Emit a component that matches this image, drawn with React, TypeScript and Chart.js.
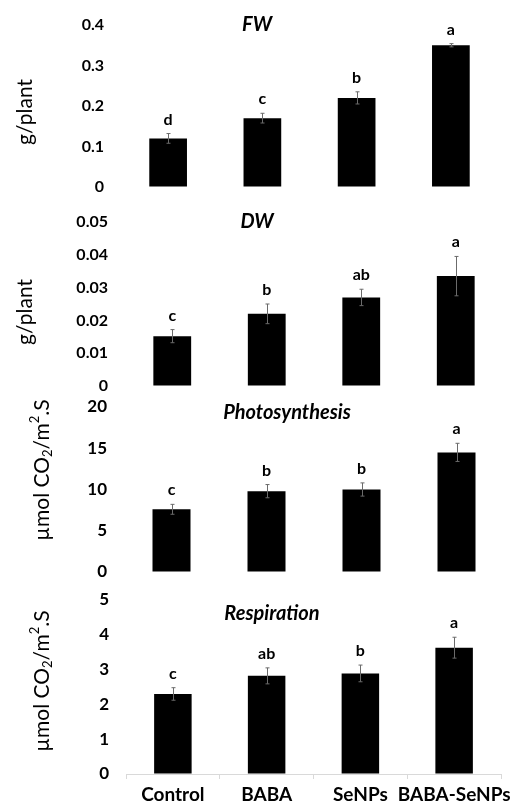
import React, { useEffect, useRef } from "react";
import { Chart, registerables } from "chart.js";
Chart.register(...registerables);

const categories = ["Control", "BABA", "SeNPs", "BABA-SeNPs"];

const fwValues = [0.12, 0.17, 0.22, 0.35];
const fwErrors = [0.012, 0.012, 0.015, 0.004];
const fwLetters = ["d", "c", "b", "a"];
const fwTicks = ["0", "0.1", "0.2", "0.3", "0.4"];

const dwValues = [0.0152, 0.022, 0.027, 0.0335];
const dwErrors = [0.002, 0.003, 0.0025, 0.006];
const dwLetters = ["c", "b", "ab", "a"];
const dwTicks = ["0", "0.01", "0.02", "0.03", "0.04", "0.05"];

const psValues = [7.6, 9.8, 10.0, 14.5];
const psErrors = [0.6, 0.8, 0.8, 1.1];
const psLetters = ["c", "b", "b", "a"];
const psTicks = ["0", "5", "10", "15", "20"];

const rsValues = [2.3, 2.82, 2.89, 3.63];
const rsErrors = [0.18, 0.23, 0.24, 0.3];
const rsLetters = ["c", "ab", "b", "a"];
const rsTicks = ["0", "1", "2", "3", "4", "5"];

const FONT = "Lato, 'Open Sans', sans-serif";

type Seg = { t: string; sub?: boolean; sup?: boolean };
const gPlant: Seg[] = [{ t: "g/plant" }];
const umol: Seg[] = [
  { t: "\u00b5mol CO" },
  { t: "2", sub: true },
  { t: "/m" },
  { t: "2", sup: true },
  { t: ".S" },
];

type Panel = {
  title: string;
  values: number[];
  errors: number[];
  letters: string[];
  ticks: string[];
  max: number;
  step: number;
  top: number;
  height: number;
  areaTop: number;
  areaBottom: number;
  left: number;
  right: number;
  tickSize: number;
  titleX: number;
  titleY: number;
  yTitle: Seg[];
  yTitleX: number;
  yTitleY: number;
  showX: boolean;
};

const panels: Panel[] = [
  {
    title: "FW", values: fwValues, errors: fwErrors, letters: fwLetters, ticks: fwTicks,
    max: 0.4, step: 0.1, top: 0, height: 200, areaTop: 25, areaBottom: 187, left: 121, right: 498,
    tickSize: 16, titleX: 257, titleY: 25, yTitle: gPlant, yTitleX: 25, yTitleY: 112, showX: false,
  },
  {
    title: "DW", values: dwValues, errors: dwErrors, letters: dwLetters, ticks: dwTicks,
    max: 0.05, step: 0.01, top: 200, height: 200, areaTop: 222, areaBottom: 386, left: 125, right: 503,
    tickSize: 16, titleX: 257, titleY: 222, yTitle: gPlant, yTitleX: 25, yTitleY: 312, showX: false,
  },
  {
    title: "Photosynthesis", values: psValues, errors: psErrors, letters: psLetters, ticks: psTicks,
    max: 20, step: 5, top: 390, height: 200, areaTop: 407, areaBottom: 572, left: 124, right: 504,
    tickSize: 17, titleX: 287, titleY: 413, yTitle: umol, yTitleX: 42, yTitleY: 470, showX: false,
  },
  {
    title: "Respiration", values: rsValues, errors: rsErrors, letters: rsLetters, ticks: rsTicks,
    max: 5, step: 1, top: 585, height: 217, areaTop: 600, areaBottom: 774, left: 126, right: 501,
    tickSize: 17, titleX: 272, titleY: 614, yTitle: umol, yTitleX: 42, yTitleY: 681, showX: true,
  },
];

function drawRotated(ctx: CanvasRenderingContext2D, segs: Seg[], x: number, y: number, size: number) {
  ctx.save();
  ctx.translate(x, y);
  ctx.rotate(-Math.PI / 2);
  ctx.textBaseline = "middle";
  ctx.textAlign = "left";
  ctx.fillStyle = "#000";
  const small = Math.round(size * 0.62);
  let total = 0;
  const widths = segs.map((s) => {
    ctx.font = `${s.sub || s.sup ? small : size}px ${FONT}`;
    const w = ctx.measureText(s.t).width;
    total += w;
    return w;
  });
  let cx = -total / 2;
  segs.forEach((s, i) => {
    ctx.font = `${s.sub || s.sup ? small : size}px ${FONT}`;
    const dy = s.sub ? size * 0.3 : s.sup ? -size * 0.32 : 0;
    ctx.fillText(s.t, cx, dy);
    cx += widths[i];
  });
  ctx.restore();
}

function makeChart(canvas: HTMLCanvasElement, p: Panel) {
  const overlay = {
    id: "overlay" + p.title,
    afterDatasetsDraw(chart: any) {
      const ctx = chart.ctx as CanvasRenderingContext2D;
      const ys = chart.scales.y;
      const meta = chart.getDatasetMeta(0);
      ctx.save();
      meta.data.forEach((bar: any, i: number) => {
        const v = p.values[i];
        const e = p.errors[i];
        const yTop = ys.getPixelForValue(v + e);
        const yBot = ys.getPixelForValue(v - e);
        const x = Math.round(bar.x) + 0.5;
        ctx.strokeStyle = "#6b6b6b";
        ctx.lineWidth = 1;
        ctx.beginPath();
        ctx.moveTo(x, yTop);
        ctx.lineTo(x, yBot);
        ctx.moveTo(x - 2, yTop);
        ctx.lineTo(x + 2, yTop);
        ctx.moveTo(x - 2, yBot);
        ctx.lineTo(x + 2, yBot);
        ctx.stroke();
        ctx.fillStyle = "#000";
        ctx.font = `bold 16px ${FONT}`;
        ctx.textAlign = "center";
        ctx.textBaseline = "alphabetic";
        ctx.fillText(p.letters[i], bar.x, yTop - 9);
      });
      ctx.fillStyle = "#000";
      ctx.font = `italic bold 20px ${FONT}`;
      ctx.textAlign = "center";
      ctx.textBaseline = "middle";
      ctx.fillText(p.title, p.titleX, p.titleY - p.top);
      drawRotated(ctx, p.yTitle, p.yTitleX, p.yTitleY - p.top, 21);
      ctx.restore();
    },
  };

  return new Chart(canvas, {
    type: "bar",
    data: {
      labels: categories,
      datasets: [
        {
          data: p.values,
          backgroundColor: "#000",
          borderWidth: 0,
          barPercentage: 0.4,
          categoryPercentage: 1,
        },
      ],
    },
    options: {
      animation: false,
      responsive: false,
      maintainAspectRatio: false,
      layout: {
        padding: {
          top: p.areaTop - p.top,
          bottom: p.showX ? 0 : p.top + p.height - p.areaBottom,
          left: 0,
          right: 518 - p.right,
        },
      },
      plugins: {
        legend: { display: false },
        tooltip: { enabled: false },
        title: { display: false },
      },
      scales: {
        x: {
          display: p.showX,
          grid: {
            display: true,
            drawOnChartArea: false,
            drawTicks: true,
            tickLength: 5,
            color: "#d9d9d9",
          },
          border: { display: true, color: "#d9d9d9", width: 1 },
          ticks: {
            color: "#000",
            padding: 4,
            maxRotation: 0,
            autoSkip: false,
            font: { family: FONT, size: 19, weight: "bold" },
          },
          afterFit: (s: any) => {
            if (p.showX) s.height = p.top + p.height - p.areaBottom;
          },
        },
        y: {
          min: 0,
          max: p.max,
          grid: {
            display: true,
            drawOnChartArea: false,
            drawTicks: true,
            tickLength: 17,
            color: "rgba(0,0,0,0)",
          },
          border: { display: false },
          ticks: {
            stepSize: p.step,
            padding: 0,
            color: "#000",
            font: { family: FONT, size: p.tickSize, weight: "bold" },
            callback: (v: any, i: number) => (p.ticks[i] !== undefined ? p.ticks[i] : v),
          },
          afterFit: (s: any) => {
            s.width = p.left;
          },
        },
      },
    },
    plugins: [overlay],
  } as any);
}

function PanelChart({ p }: { p: Panel }) {
  const ref = useRef<HTMLCanvasElement>(null);
  useEffect(() => {
    if (!ref.current) return;
    const c = makeChart(ref.current, p);
    return () => c.destroy();
  }, [p]);
  return (
    <canvas
      ref={ref}
      width={518}
      height={p.height}
      style={{ position: "absolute", left: 0, top: p.top, width: 518, height: p.height }}
    />
  );
}

export default function App() {
  return (
    <div style={{ position: "absolute", left: 0, top: 0, width: 518, height: 802, background: "#fff", overflow: "hidden" }}>
      {panels.map((p) => (
        <PanelChart key={p.title} p={p} />
      ))}
    </div>
  );
}
